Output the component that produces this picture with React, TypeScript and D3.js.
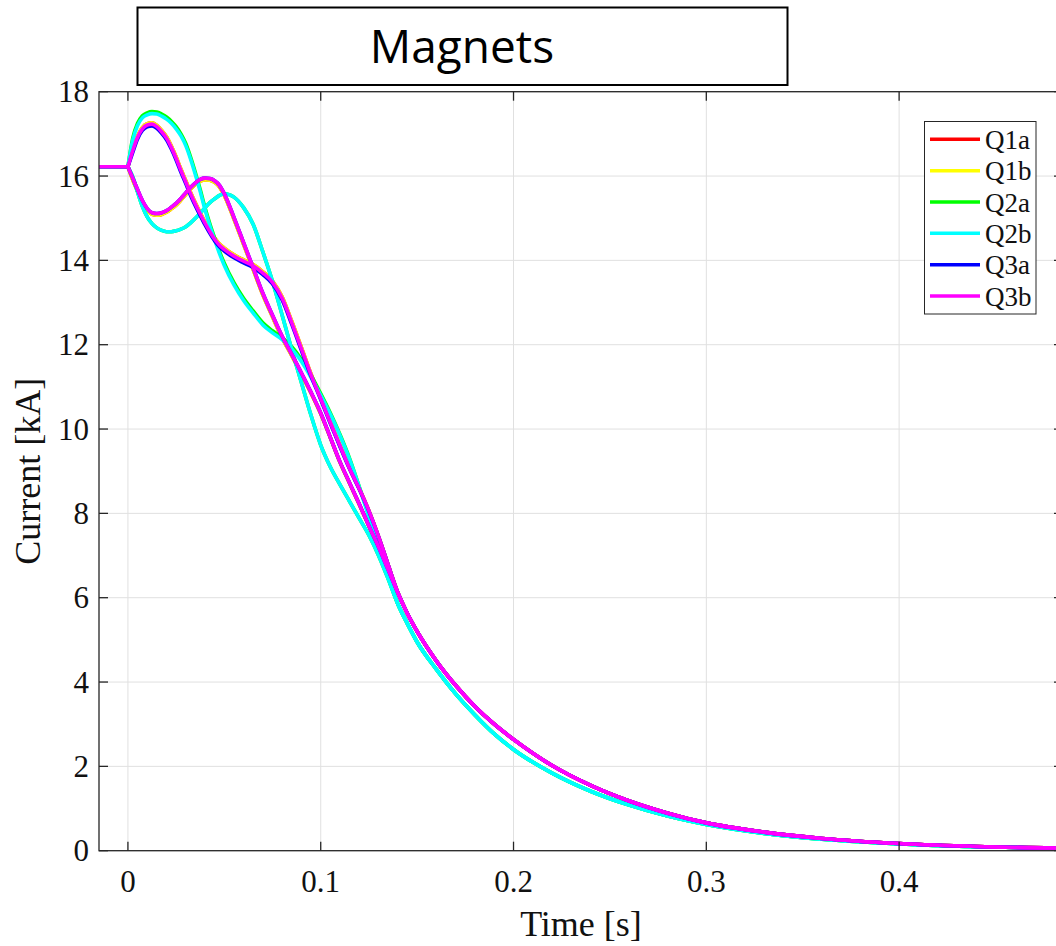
import React from "react";
import * as d3 from "d3";

// ---- data -------------------------------------------------------------
// Current in each magnet, two pole circuits per magnet.
const SERIES_NAMES = ["Q1a", "Q1b", "Q2a", "Q2b", "Q3a", "Q3b"];
const SERIES_COLORS = ["#ff0000", "#ffff00", "#00ff00", "#00ffff", "#0000ff", "#ff00ff"];

const PRE_TIME = -0.015; // start of the record before the trigger
const INITIAL_CURRENT = 16.22; // kA

const T_EARLY = [
  0, 0.0025, 0.005, 0.0075, 0.01, 0.0125, 0.015, 0.0175, 0.02, 0.0225, 0.025, 0.0275,
  0.03, 0.0325, 0.035, 0.0375, 0.04, 0.0425, 0.045, 0.0475, 0.05, 0.055, 0.06, 0.065,
  0.07, 0.075, 0.08, 0.085, 0.09, 0.095, 0.1, 0.105, 0.11, 0.115, 0.12, 0.125, 0.13,
  0.135, 0.14,
];
const T_TAIL = [0.145, 0.15, 0.16, 0.17, 0.18, 0.19, 0.2, 0.22, 0.24, 0.26, 0.28, 0.3, 0.33, 0.36, 0.4, 0.44, 0.485];

// Q1 (a and b) pole currents
const Q1_POLE_UP = [
  16.22, 16.63, 16.95, 17.15, 17.24, 17.26, 17.2, 17.08, 16.93, 16.71, 16.45, 16.16,
  15.89, 15.61, 15.36, 15.13, 14.91, 14.71, 14.53, 14.39, 14.29, 14.13, 14.01, 13.9,
  13.73, 13.51, 13.13, 12.55, 11.93, 11.3, 10.73, 10.16, 9.61, 9.07, 8.59, 8.06, 7.45,
  6.78, 6.12,
];
const Q1_POLE_DOWN = [
  16.22, 15.91, 15.64, 15.38, 15.19, 15.09, 15.07, 15.09, 15.14, 15.22, 15.31, 15.43,
  15.56, 15.69, 15.8, 15.88, 15.91, 15.9, 15.85, 15.74, 15.54, 14.98, 14.38, 13.78,
  13.18, 12.66, 12.16, 11.74, 11.3, 10.85, 10.36, 9.79, 9.21, 8.71, 8.21, 7.7, 7.2,
  6.66, 6.12,
];
// Q2 pole currents
const Q2A_POLE_UP = [
  16.22, 16.9, 17.25, 17.43, 17.5, 17.53, 17.52, 17.47, 17.4, 17.3, 17.17, 17.0,
  16.77, 16.45, 16.08, 15.68, 15.25, 14.87, 14.53, 14.21, 13.93, 13.47, 13.1, 12.8,
  12.52, 12.33, 12.17, 11.95, 11.65, 11.27, 10.84, 10.38, 9.87, 9.3, 8.63, 7.93, 7.18,
  6.48, 5.85,
];
const Q2B_POLE_UP = [
  16.22, 16.85, 17.2, 17.38, 17.45, 17.48, 17.47, 17.42, 17.35, 17.25, 17.12, 16.95,
  16.72, 16.4, 16.03, 15.63, 15.2, 14.82, 14.48, 14.16, 13.88, 13.42, 13.05, 12.75,
  12.47, 12.28, 12.12, 11.9, 11.6, 11.22, 10.8, 10.35, 9.85, 9.28, 8.62, 7.92, 7.18,
  6.48, 5.85,
];
const Q2_POLE_DOWN = [
  16.22, 15.98, 15.62, 15.28, 15.03, 14.87, 14.77, 14.71, 14.68, 14.68, 14.7, 14.74,
  14.8, 14.89, 15.0, 15.12, 15.25, 15.37, 15.46, 15.54, 15.58, 15.5, 15.25, 14.85,
  14.2, 13.5, 12.7, 11.88, 11.1, 10.32, 9.62, 9.1, 8.68, 8.28, 7.88, 7.48, 7.0,
  6.44, 5.85,
];
// Q3 pole currents
const Q3A_POLE_UP = [
  16.22, 16.56, 16.88, 17.08, 17.17, 17.19, 17.13, 17.01, 16.86, 16.64, 16.38, 16.09,
  15.82, 15.54, 15.29, 15.06, 14.84, 14.64, 14.46, 14.32, 14.22, 14.06, 13.94, 13.83,
  13.66, 13.44, 13.06, 12.48, 11.86, 11.25, 10.7, 10.13, 9.58, 9.05, 8.57, 8.05, 7.45,
  6.78, 6.12,
];
const Q3B_POLE_UP = [
  16.22, 16.6, 16.92, 17.12, 17.21, 17.23, 17.17, 17.05, 16.9, 16.68, 16.42, 16.13,
  15.86, 15.58, 15.33, 15.1, 14.88, 14.68, 14.5, 14.36, 14.26, 14.1, 13.98, 13.87,
  13.7, 13.48, 13.1, 12.52, 11.9, 11.28, 10.72, 10.15, 9.6, 9.06, 8.58, 8.06, 7.45,
  6.78, 6.12,
];
const Q3_POLE_DOWN = [
  16.22, 15.95, 15.68, 15.42, 15.23, 15.13, 15.11, 15.13, 15.18, 15.26, 15.35, 15.47,
  15.6, 15.73, 15.84, 15.92, 15.95, 15.94, 15.89, 15.78, 15.58, 15.02, 14.42, 13.82,
  13.22, 12.7, 12.2, 11.77, 11.33, 10.87, 10.38, 9.8, 9.22, 8.72, 8.22, 7.7, 7.2,
  6.66, 6.12,
];
// Common decay tails
const TAIL_Q1_Q3 = [5.62, 5.2, 4.5, 3.92, 3.42, 3.0, 2.64, 2.02, 1.55, 1.18, 0.89, 0.66, 0.44, 0.29, 0.17, 0.1, 0.06];
const TAIL_Q2 = [5.38, 4.95, 4.3, 3.72, 3.22, 2.77, 2.4, 1.84, 1.41, 1.08, 0.82, 0.62, 0.41, 0.27, 0.16, 0.095, 0.055];

const SERIES_POLES: number[][][] = [
  [Q1_POLE_UP, Q1_POLE_DOWN],
  [Q1_POLE_UP, Q1_POLE_DOWN],
  [Q2A_POLE_UP, Q2_POLE_DOWN],
  [Q2B_POLE_UP, Q2_POLE_DOWN],
  [Q3A_POLE_UP, Q3_POLE_DOWN],
  [Q3B_POLE_UP, Q3_POLE_DOWN],
];
const SERIES_TAILS = [TAIL_Q1_Q3, TAIL_Q1_Q3, TAIL_Q2, TAIL_Q2, TAIL_Q1_Q3, TAIL_Q1_Q3];

const X_TICKS = [0, 0.1, 0.2, 0.3, 0.4];
const X_TICK_LABELS = ["0", "0.1", "0.2", "0.3", "0.4"];
const Y_TICKS = [0, 2, 4, 6, 8, 10, 12, 14, 16, 18];

// ---- layout -----------------------------------------------------------
const W = 1056;
const H = 946;
const PLOT = { left: 99, right: 1063, top: 91.7, bottom: 850.7 };
const TICK_LEN = 9;
const SERIF = "'Liberation Serif', 'Times New Roman', serif";
const AXIS_COLOR = "#262626";
const GRID_COLOR = "#e0e0e0";

export default function App() {
  const x = d3.scaleLinear().domain([PRE_TIME, 0.485]).range([PLOT.left, PLOT.right]);
  const y = d3.scaleLinear().domain([0, 18]).range([PLOT.bottom, PLOT.top]);

  const smooth = d3
    .line<[number, number]>()
    .x((d) => x(d[0]))
    .y((d) => y(d[1]))
    .curve(d3.curveMonotoneX);
  const straight = d3
    .line<[number, number]>()
    .x((d) => x(d[0]))
    .y((d) => y(d[1]));

  const prePath = straight([
    [PRE_TIME, INITIAL_CURRENT],
    [0, INITIAL_CURRENT],
  ]) as string;

  const legendX = 924.5;
  const legendY = 121.5;
  const legendRow = 31.35;

  return (
    <svg
      width={W}
      height={H}
      viewBox={`0 0 ${W} ${H}`}
      style={{ position: "absolute", left: 0, top: 0, background: "#fff", display: "block" }}
    >
      <defs>
        <clipPath id="plot-clip">
          <rect x={PLOT.left} y={PLOT.top - 3} width={PLOT.right - PLOT.left} height={PLOT.bottom - PLOT.top + 3} />
        </clipPath>
      </defs>
      <rect x={0} y={0} width={W} height={H} fill="#fff" />

      {/* grid */}
      <g stroke={GRID_COLOR} strokeWidth={1}>
        {X_TICKS.map((t) => (
          <line key={`gx${t}`} x1={x(t)} x2={x(t)} y1={PLOT.top} y2={PLOT.bottom} />
        ))}
        {Y_TICKS.map((v) => (
          <line key={`gy${v}`} x1={PLOT.left} x2={PLOT.right} y1={y(v)} y2={y(v)} />
        ))}
      </g>

      {/* curves */}
      <g clipPath="url(#plot-clip)" fill="none" strokeWidth={3.6} strokeLinejoin="round" strokeLinecap="round">
        {SERIES_NAMES.map((name, si) => (
          <g key={name} stroke={SERIES_COLORS[si]}>
            <path d={prePath} />
            {SERIES_POLES[si].map((pole, pi) => {
              const pts: [number, number][] = T_EARLY.map((t, i) => [t, pole[i]] as [number, number]).concat(
                T_TAIL.map((t, i) => [t, SERIES_TAILS[si][i]] as [number, number])
              );
              return <path key={pi} d={smooth(pts) as string} />;
            })}
          </g>
        ))}
      </g>

      {/* axes box and ticks */}
      <g stroke={AXIS_COLOR} strokeWidth={1.3} fill="none">
        <rect x={PLOT.left} y={PLOT.top} width={PLOT.right - PLOT.left} height={PLOT.bottom - PLOT.top} />
        {X_TICKS.map((t) => (
          <g key={`tx${t}`}>
            <line x1={x(t)} x2={x(t)} y1={PLOT.bottom} y2={PLOT.bottom - TICK_LEN} />
            <line x1={x(t)} x2={x(t)} y1={PLOT.top} y2={PLOT.top + TICK_LEN} />
          </g>
        ))}
        {Y_TICKS.map((v) => (
          <g key={`ty${v}`}>
            <line x1={PLOT.left} x2={PLOT.left + TICK_LEN} y1={y(v)} y2={y(v)} />
            <line x1={PLOT.right} x2={PLOT.right - TICK_LEN} y1={y(v)} y2={y(v)} />
          </g>
        ))}
      </g>

      {/* tick labels */}
      <g fontFamily={SERIF} fontSize={31} fill="#111">
        {X_TICKS.map((t, i) => (
          <text key={`lx${t}`} x={x(t)} y={PLOT.bottom + 41} textAnchor="middle">
            {X_TICK_LABELS[i]}
          </text>
        ))}
        {Y_TICKS.map((v) => (
          <text key={`ly${v}`} x={PLOT.left - 10} y={y(v) + 10.5} textAnchor="end">
            {v}
          </text>
        ))}
      </g>

      {/* axis titles */}
      <text x={(PLOT.left + PLOT.right) / 2} y={936} textAnchor="middle" fontFamily={SERIF} fontSize={36} fill="#111">
        Time [s]
      </text>
      <text
        transform={`translate(40, ${(PLOT.top + PLOT.bottom) / 2}) rotate(-90)`}
        textAnchor="middle"
        fontFamily={SERIF}
        fontSize={36}
        fill="#111"
      >
        Current [kA]
      </text>

      {/* legend */}
      <g>
        <rect x={legendX} y={legendY} width={111.5} height={192.5} fill="#fff" stroke={AXIS_COLOR} strokeWidth={1} />
        {SERIES_NAMES.map((name, i) => {
          const cy = legendY + 17.8 + i * legendRow;
          return (
            <g key={`lg${name}`}>
              <line x1={930} x2={980} y1={cy} y2={cy} stroke={SERIES_COLORS[i]} strokeWidth={3.5} />
              <text x={985} y={cy + 9.5} fontFamily={SERIF} fontSize={27} fill="#111">
                {name}
              </text>
            </g>
          );
        })}
      </g>

      {/* title box */}
      <rect x={137.5} y={7.5} width={650} height={77.5} fill="#fff" stroke="#000" strokeWidth={2} />
      <text x={462} y={63} textAnchor="middle" fontFamily="'Open Sans', sans-serif" fontSize={46} fill="#000">
        Magnets
      </text>
    </svg>
  );
}
